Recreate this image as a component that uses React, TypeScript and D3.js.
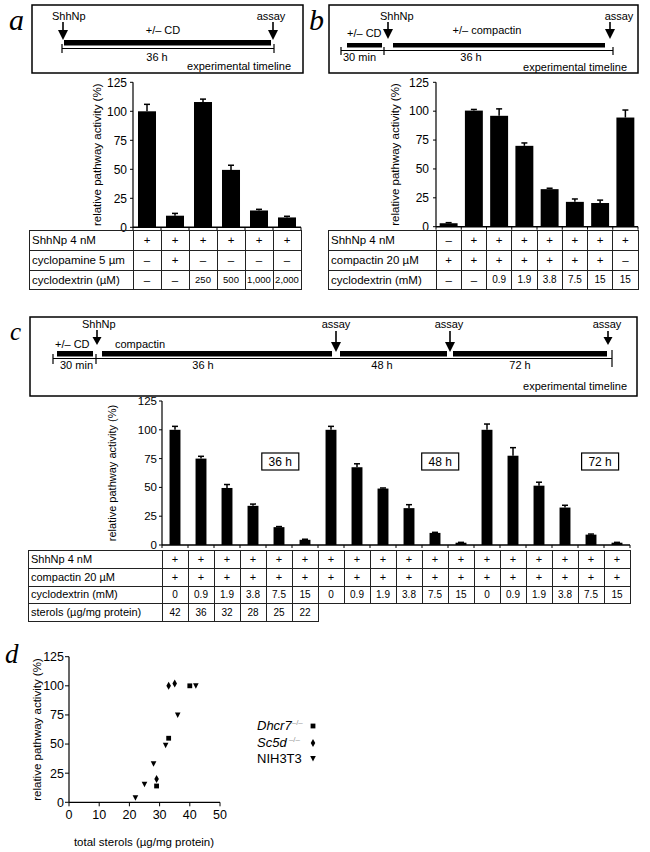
import React from "react";
import * as d3 from "d3";

// ---------- data ----------
const yTicks = [0, 25, 50, 75, 100, 125];

const aValues = [100, 10, 108, 49.5, 14.5, 8.5];
const aErrors = [6, 2, 2.5, 4, 1, 1];
const aShhNp = ["+", "+", "+", "+", "+", "+"];
const aCyclopamine = ["–", "+", "–", "–", "–", "–"];
const aCyclodextrin = ["–", "–", "250", "500", "1,000", "2,000"];

const bValues = [3, 100.5, 96, 70, 32.5, 21.5, 20.5, 94.5];
const bErrors = [0.5, 1, 6, 2.5, 0.8, 2.5, 2.5, 6.5];
const bShhNp = ["–", "+", "+", "+", "+", "+", "+", "+"];
const bCompactin = ["+", "+", "+", "+", "+", "+", "+", "–"];
const bCyclodextrin = ["–", "–", "0.9", "1.9", "3.8", "7.5", "15", "15"];

const cValues = [100, 75, 49.5, 34, 15.5, 4.5, 100, 67.5, 49, 32, 10.5, 2, 100, 77.5, 51.5, 32.5, 9, 2];
const cErrors = [3, 2, 3, 1.5, 0.5, 0.5, 3, 3, 0.5, 3, 0.5, 0.3, 5, 7, 3, 2, 0.5, 0.3];
const cShhNp = ["+", "+", "+", "+", "+", "+", "+", "+", "+", "+", "+", "+", "+", "+", "+", "+", "+", "+"];
const cCompactin = ["+", "+", "+", "+", "+", "+", "+", "+", "+", "+", "+", "+", "+", "+", "+", "+", "+", "+"];
const cCyclodextrin = ["0", "0.9", "1.9", "3.8", "7.5", "15", "0", "0.9", "1.9", "3.8", "7.5", "15", "0", "0.9", "1.9", "3.8", "7.5", "15"];
const cSterols = ["42", "36", "32", "28", "25", "22"];
const cTimeLabels = ["36 h", "48 h", "72 h"];
const cTimeLabelSlots = [4.05, 10.2, 16.35];

const dTicksX = [0, 10, 20, 30, 40, 50];
const dhcr7Sterols = [40, 33, 29];
const dhcr7Activity = [100, 55, 14];
const sc5dSterols = [33, 35, 29];
const sc5dActivity = [100, 102, 20];
const nihSterols = [42, 36, 32, 28, 25, 22];
const nihActivity = [100, 75, 49, 33, 15.5, 4];

// ---------- styling ----------
const SANS = "'Liberation Sans', Arial, Helvetica, sans-serif";
const NARROW = "'Liberation Sans Narrow', 'Liberation Sans', Arial, sans-serif";
const SERIF = "'Liberation Serif', 'DejaVu Serif', serif";

const Arrow = ({ x, y1, y2, head = 10, w = 10 }: any) => (
  <g>
    <line x1={x} x2={x} y1={y1} y2={y2 - head + 1} stroke="#000" strokeWidth={1.6} />
    <path d={`M${x - w / 2},${y2 - head}L${x + w / 2},${y2 - head}L${x},${y2}Z`} fill="#000" />
  </g>
);

function BarChart({ left, right, top, bottom, values, errors, padding, font, tickFont, labelX, family, capW, tickOffset }: any) {
  const x = d3
    .scaleBand<number>()
    .domain(d3.range(values.length))
    .range([left, right])
    .paddingInner(padding)
    .paddingOuter(padding / 2);
  const y = d3.scaleLinear().domain([0, 125]).range([bottom, top]);
  const step = x.step();
  const bw = x.bandwidth();
  return (
    <g fontFamily={family}>
      {values.map((v: number, i: number) => {
        const cx = (x(i) as number) + bw / 2;
        return (
          <g key={i}>
            <rect x={x(i)} y={y(v)} width={bw} height={y(0) - y(v)} fill="#000" />
            <line x1={cx} x2={cx} y1={y(v)} y2={y(v + errors[i])} stroke="#000" strokeWidth={1.5} />
            <line x1={cx - capW / 2} x2={cx + capW / 2} y1={y(v + errors[i])} y2={y(v + errors[i])} stroke="#000" strokeWidth={1.5} />
          </g>
        );
      })}
      <line x1={left} x2={left} y1={top} y2={bottom} stroke="#000" strokeWidth={1.2} />
      <line x1={left} x2={right} y1={bottom} y2={bottom} stroke="#000" strokeWidth={1.5} />
      {d3.range(values.length + 1).map((i) => (
        <line key={i} x1={left + step * i} x2={left + step * i} y1={bottom} y2={bottom + 3} stroke="#000" strokeWidth={1} />
      ))}
      {yTicks.map((t) => (
        <g key={t}>
          <line x1={left - 3} x2={left} y1={y(t)} y2={y(t)} stroke="#000" strokeWidth={1} />
          <text x={left - tickOffset} y={y(t)} dy="0.35em" textAnchor="end" fontSize={tickFont}>
            {t}
          </text>
        </g>
      ))}
      <text
        transform={`translate(${labelX},${(top + bottom) / 2}) rotate(-90)`}
        textAnchor="middle"
        fontSize={font}
      >
        relative pathway activity (%)
      </text>
    </g>
  );
}

function Table({ left, labelEnd, right, rowYs, rows, nCols, family }: any) {
  const x = d3.scaleBand<number>().domain(d3.range(nCols)).range([labelEnd, right]);
  const bw = x.bandwidth();
  return (
    <g fontFamily={family} shapeRendering="crispEdges">
      {rows.map((r: any, ri: number) => {
        const y0 = rowYs[ri];
        const y1 = rowYs[ri + 1];
        const mid = (y0 + y1) / 2;
        return (
          <g key={ri}>
            <rect x={left} y={y0} width={labelEnd - left} height={y1 - y0} fill="none" stroke="#222" strokeWidth={1} />
            <text x={left + 3} y={mid} dy="0.36em" fontSize={r.font}>
              {r.label}
            </text>
            {r.cells.map((c: string, ci: number) => (
              <g key={ci}>
                <rect x={x(ci)} y={y0} width={bw} height={y1 - y0} fill="none" stroke="#222" strokeWidth={1} />
                <text
                  x={(x(ci) as number) + bw / 2}
                  y={mid}
                  dy="0.36em"
                  textAnchor="middle"
                  fontSize={c === "+" || c === "–" ? r.font : r.numFont}
                >
                  {c}
                </text>
              </g>
            ))}
          </g>
        );
      })}
    </g>
  );
}

function PanelD() {
  const x = d3.scaleLinear().domain([0, 50]).range([69, 220]);
  const y = d3.scaleLinear().domain([0, 125]).range([802.3, 656.7]);
  const diamond = d3.symbol().type(d3.symbolDiamond).size(18)();
  const tri = (cx: number, cy: number) => `M${cx - 2.8},${cy - 2.5}L${cx + 2.8},${cy - 2.5}L${cx},${cy + 3}Z`;
  return (
    <g fontFamily={SANS}>
      <line x1={69} x2={69} y1={y(125)} y2={y(0)} stroke="#000" strokeWidth={1.2} />
      <line x1={69} x2={220} y1={y(0)} y2={y(0)} stroke="#000" strokeWidth={1.2} />
      {yTicks.map((t) => (
        <g key={t}>
          <line x1={65} x2={69} y1={y(t)} y2={y(t)} stroke="#000" />
          <text x={64} y={y(t)} dy="0.35em" textAnchor="end" fontSize={12.5}>
            {t}
          </text>
        </g>
      ))}
      {dTicksX.map((t) => (
        <g key={t}>
          <line x1={x(t)} x2={x(t)} y1={y(0)} y2={y(0) + 4} stroke="#000" />
          <text x={x(t)} y={y(0) + 17} textAnchor="middle" fontSize={12.5}>
            {t}
          </text>
        </g>
      ))}
      <text transform={`translate(41,${(y(0) + y(125)) / 2}) rotate(-90)`} textAnchor="middle" fontSize={11.5}>
        relative pathway activity (%)
      </text>
      <text x={144} y={846} textAnchor="middle" fontSize={11.5}>
        total sterols (µg/mg protein)
      </text>
      {dhcr7Sterols.map((s, i) => (
        <rect key={"s" + i} x={x(s) - 2.4} y={y(dhcr7Activity[i]) - 2.4} width={4.8} height={4.8} fill="#000" />
      ))}
      {sc5dSterols.map((s, i) => (
        <path key={"d" + i} d={diamond} transform={`translate(${x(s)},${y(sc5dActivity[i])})`} fill="#000" />
      ))}
      {nihSterols.map((s, i) => (
        <path key={"t" + i} d={tri(x(s), y(nihActivity[i]))} fill="#000" />
      ))}
      {/* legend */}
      <text x={257} y={730} fontSize={13}>
        <tspan fontStyle="italic">Dhcr7</tspan>
        <tspan dy={-5} fontSize={8} fill="#999">
          –/–
        </tspan>
      </text>
      <text x={257} y={747} fontSize={13}>
        <tspan fontStyle="italic">Sc5d</tspan>
        <tspan dy={-5} fontSize={8} fill="#999">
          {" "}–/–
        </tspan>
      </text>
      <text x={257} y={763} fontSize={13}>
        NIH3T3
      </text>
      <rect x={310.6} y={723.6} width={4.8} height={4.8} fill="#000" />
      <path d={diamond} transform="translate(313,743)" fill="#000" />
      <path d={tri(313, 758.5)} fill="#000" />
    </g>
  );
}

export default function App() {
  const cLeft = 162;
  const cStep = (630 - cLeft) / cValues.length;
  return (
    <svg width={650} height={852} style={{ position: "absolute", left: 0, top: 0, background: "#fff" }} fontFamily={SANS}>
      <rect x={0} y={0} width={650} height={852} fill="#fff" />
      {/* panel letters */}
      <g fontFamily={SERIF} fontStyle="italic">
        <text x={9} y={30} fontSize={30}>a</text>
        <text x={309} y={30} fontSize={30}>b</text>
        <text x={10} y={340} fontSize={25}>c</text>
        <text x={5} y={663} fontSize={27}>d</text>
      </g>

      {/* ---- panel a timeline ---- */}
      <g fontSize={11}>
        <rect x={32} y={5} width={271} height={68} fill="none" stroke="#000" strokeWidth={1.5} />
        <text x={52} y={20}>ShhNp</text>
        <Arrow x={63} y1={22} y2={40} />
        <text x={163} y={34} textAnchor="middle">+/– CD</text>
        <rect x={64} y={40} width={207} height={5.5} fill="#000" />
        <line x1={62} x2={274} y1={48.5} y2={48.5} stroke="#000" strokeWidth={1.2} />
        <line x1={62} x2={62} y1={44} y2={53} stroke="#000" strokeWidth={1.2} />
        <line x1={274} x2={274} y1={44} y2={53} stroke="#000" strokeWidth={1.2} />
        <text x={157} y={61} textAnchor="middle">36 h</text>
        <text x={271} y={20} textAnchor="middle">assay</text>
        <Arrow x={273} y1={22} y2={40} />
        <text x={291} y={70} textAnchor="end">experimental timeline</text>
      </g>

      {/* ---- panel b timeline ---- */}
      <g fontSize={11}>
        <rect x={329} y={5} width={309} height={68} fill="none" stroke="#000" strokeWidth={1.5} />
        <text x={380} y={20}>ShhNp</text>
        <Arrow x={388} y1={22} y2={39} />
        <text x={347} y={37}>+/– CD</text>
        <rect x={347} y={43} width={35} height={4.5} fill="#000" />
        <rect x={393} y={43} width={212} height={4.5} fill="#000" />
        <text x={487} y={34} textAnchor="middle">+/– compactin</text>
        <line x1={341} x2={613} y1={50.5} y2={50.5} stroke="#000" strokeWidth={1.2} />
        <line x1={341} x2={341} y1={47} y2={55} stroke="#000" strokeWidth={1.2} />
        <line x1={384} x2={384} y1={47} y2={55} stroke="#000" strokeWidth={1.2} />
        <line x1={613} x2={613} y1={47} y2={55} stroke="#000" strokeWidth={1.2} />
        <text x={343} y={61}>30 min</text>
        <text x={471} y={61} textAnchor="middle">36 h</text>
        <text x={619} y={20} textAnchor="middle">assay</text>
        <Arrow x={610} y1={22} y2={39} />
        <text x={627} y={71} textAnchor="end">experimental timeline</text>
      </g>

      {/* ---- panel a chart + table ---- */}
      <BarChart left={133} right={301} top={82.3} bottom={227.3} values={aValues} errors={aErrors} padding={0.357}
        font={11.5} tickFont={12} labelX={101} family={SANS} capW={6} tickOffset={6} />
      <Table left={29} labelEnd={133} right={301} rowYs={[230, 250, 270, 289]} nCols={6} family={SANS}
        rows={[
          { label: "ShhNp 4 nM", cells: aShhNp, font: 11.5, numFont: 10 },
          { label: "cyclopamine 5 µm", cells: aCyclopamine, font: 11.5, numFont: 10 },
          { label: "cyclodextrin (µM)", cells: aCyclodextrin, font: 11.5, numFont: 9.5 },
        ]} />

      {/* ---- panel b chart + table ---- */}
      <BarChart left={436} right={638} top={82.3} bottom={226.7} values={bValues} errors={bErrors} padding={0.29}
        font={11.5} tickFont={12} labelX={399} family={SANS} capW={6} tickOffset={7} />
      <Table left={328} labelEnd={436} right={638} rowYs={[230, 250, 270, 289]} nCols={8} family={SANS}
        rows={[
          { label: "ShhNp 4 nM", cells: bShhNp, font: 11.5, numFont: 10 },
          { label: "compactin 20 µM", cells: bCompactin, font: 11.5, numFont: 10 },
          { label: "cyclodextrin (mM)", cells: bCyclodextrin, font: 11.5, numFont: 10 },
        ]} />

      {/* ---- panel c timeline ---- */}
      <g fontSize={11}>
        <rect x={30} y={317} width={607} height={79} fill="none" stroke="#000" strokeWidth={1.5} />
        <text x={82} y={328}>ShhNp</text>
        <Arrow x={97} y1={330} y2={345} head={8} w={9} />
        <text x={55} y={348}>+/– CD</text>
        <rect x={57} y={351} width={36} height={5.5} fill="#000" />
        <text x={115} y={348}>compactin</text>
        <rect x={102} y={351} width={230} height={5.5} fill="#000" />
        <rect x={340} y={351} width={107} height={5.5} fill="#000" />
        <rect x={453} y={351} width={154} height={5.5} fill="#000" />
        <line x1={53} x2={612} y1={358.5} y2={358.5} stroke="#000" strokeWidth={1.2} />
        <line x1={53} x2={53} y1={354} y2={364} stroke="#000" strokeWidth={1.2} />
        <line x1={96} x2={96} y1={354} y2={364} stroke="#000" strokeWidth={1.2} />
        <line x1={612} x2={612} y1={350} y2={367} stroke="#000" strokeWidth={1.2} />
        <text x={60} y={369}>30 min</text>
        <text x={203} y={369} textAnchor="middle">36 h</text>
        <text x={382} y={369} textAnchor="middle">48 h</text>
        <text x={520} y={369} textAnchor="middle">72 h</text>
        <text x={336} y={328} textAnchor="middle">assay</text>
        <Arrow x={336} y1={331} y2={352} />
        <text x={449} y={328} textAnchor="middle">assay</text>
        <Arrow x={450} y1={331} y2={352} />
        <text x={607} y={328} textAnchor="middle">assay</text>
        <Arrow x={608} y1={331} y2={345} head={8} w={9} />
        <text x={627} y={390} textAnchor="end">experimental timeline</text>
      </g>

      {/* ---- panel c chart + table ---- */}
      <BarChart left={cLeft} right={630} top={401} bottom={545} values={cValues} errors={cErrors} padding={0.58}
        font={11} tickFont={11.5} labelX={116} family={NARROW} capW={6} tickOffset={5} />
      <g fontFamily={NARROW} fontSize={12}>
        {cTimeLabels.map((t, i) => {
          const cx = cLeft + cStep * (cTimeLabelSlots[i] + 0.5);
          return (
            <g key={t}>
              <rect x={cx - 18.5} y={453} width={37} height={17} fill="#fff" stroke="#000" strokeWidth={1.2} />
              <text x={cx} y={461.5} dy="0.36em" textAnchor="middle">{t}</text>
            </g>
          );
        })}
      </g>
      <Table left={28} labelEnd={cLeft} right={630} rowYs={[550, 568, 586, 603, 621]} nCols={18} family={SANS}
        rows={[
          { label: "ShhNp 4 nM", cells: cShhNp, font: 11, numFont: 10 },
          { label: "compactin 20 µM", cells: cCompactin, font: 11, numFont: 10 },
          { label: "cyclodextrin (mM)", cells: cCyclodextrin, font: 11, numFont: 10 },
          { label: "sterols (µg/mg protein)", cells: cSterols, font: 11, numFont: 10 },
        ]} />

      {/* ---- panel d ---- */}
      <PanelD />
    </svg>
  );
}
